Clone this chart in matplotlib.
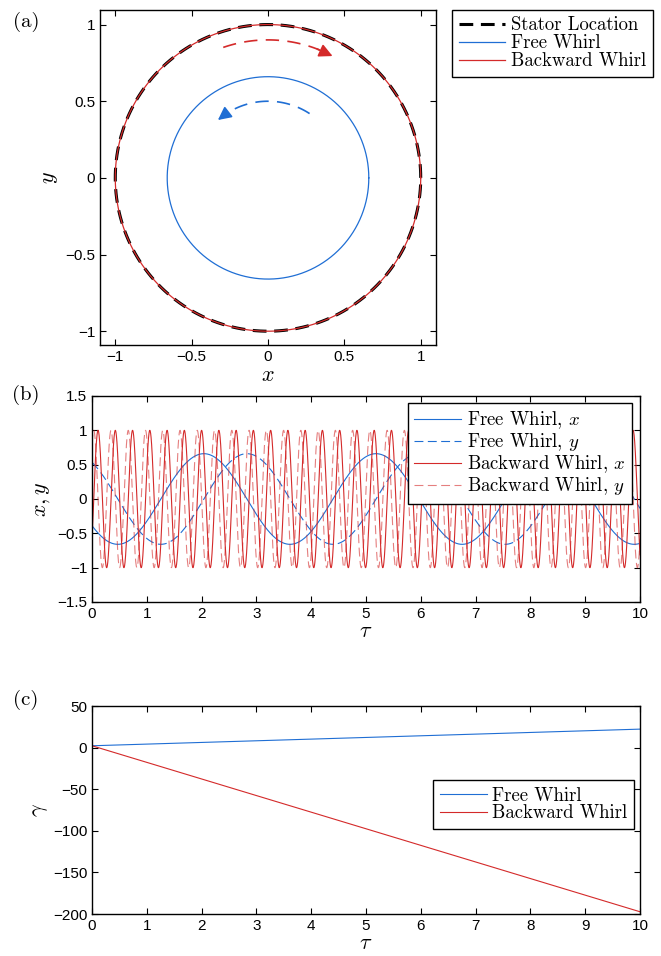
import numpy as np
import matplotlib
matplotlib.use('Agg')
import matplotlib.pyplot as plt
from matplotlib.ticker import FuncFormatter

plt.rcParams['mathtext.fontset'] = 'cm'
plt.rcParams['font.family'] = ['Liberation Sans', 'DejaVu Sans']

# ---- data ----
# orbit radii (panel a)
r_stator = 1.0
r_free = 0.66
r_back = 1.0
# whirl phase gamma at tau = 0 and tau = 10 (panel c)
tau_ends = [0.0, 10.0]
gamma_free = [2.2, 22.2]
gamma_back = [2.2, -197.3]
# direction arrows in panel a: radius, start angle, end angle (deg)
arrow_free = (0.50, 57, 131)
arrow_back = (0.90, 109, 62)

BLUE = '#1f6ed4'
RED = '#d42a2a'
CMR = {'family': 'cmr10', 'size': 13.5}


def gamma_of(tau, g):
    rate = (g[1] - g[0]) / (tau_ends[1] - tau_ends[0])
    return g[0] + rate * (tau - tau_ends[0])


def fmt(v, pos):
    s = '%g' % v
    return s.replace('-', '\u2212')


def style_ax(ax):
    ax.tick_params(direction='in', top=True, right=True, length=4,
                   labelsize=11, width=0.8)
    for s in ax.spines.values():
        s.set_linewidth(1.0)
    ax.xaxis.set_major_formatter(FuncFormatter(fmt))
    ax.yaxis.set_major_formatter(FuncFormatter(fmt))


def leg(ax, **kw):
    l = ax.legend(prop=CMR, fancybox=False, edgecolor='black', framealpha=1,
                  handlelength=2.5, handletextpad=0.3, labelspacing=0.0,
                  borderpad=0.35, borderaxespad=0, **kw)
    l.get_frame().set_linewidth(1.0)
    return l


fig = plt.figure(figsize=(6.61, 9.56), dpi=100)
W, H = 661.0, 956.0


def px_axes(l, t, r, b):
    return fig.add_axes([l / W, 1 - b / H, (r - l) / W, (b - t) / H])


# ---------- (a) ----------
ax = px_axes(100, 10, 436, 345)
th = np.linspace(0, 2 * np.pi, 400)
ax.plot(r_stator * np.cos(th), r_stator * np.sin(th), color='black', lw=2.2,
        dashes=(4.5, 2.5), label='Stator Location')
ax.plot(r_free * np.cos(th), r_free * np.sin(th), color=BLUE, lw=0.9,
        label='Free Whirl')
ax.plot(r_back * np.cos(th), r_back * np.sin(th), color=RED, lw=0.9,
        label='Backward Whirl')

for (r, a0, a1), c in [(arrow_free, BLUE), (arrow_back, RED)]:
    sgn = np.sign(a1 - a0)
    t = np.radians(np.linspace(a0, a1 - sgn * 6, 60))
    ax.plot(r * np.cos(t), r * np.sin(t), color=c, lw=1.2, dashes=(8, 5))
    tip = np.radians(a1)
    tail = np.radians(a1 - sgn * 7)
    ax.annotate('', xy=(r * np.cos(tip), r * np.sin(tip)),
                xytext=(r * np.cos(tail), r * np.sin(tail)),
                arrowprops=dict(arrowstyle='-|>', color=c, lw=1.2,
                                mutation_scale=20, shrinkA=0, shrinkB=0))

ax.set_xlim(-1.1, 1.1)
ax.set_ylim(-1.09, 1.095)
ax.set_xticks([-1, -0.5, 0, 0.5, 1])
ax.set_yticks([-1, -0.5, 0, 0.5, 1])
style_ax(ax)
ax.set_xlabel('$x$', fontsize=16, labelpad=1)
ax.set_ylabel('$y$', fontsize=16, labelpad=4)
leg(ax, loc='upper left', bbox_to_anchor=(452 / W, 1 - 10 / H),
    bbox_transform=fig.transFigure)
fig.text(26 / W, 1 - 22 / H, '(a)', fontdict={'family': 'cmr10', 'size': 15},
         ha='center', va='center')

# ---------- (b) ----------
bx = px_axes(92, 396, 640, 602)
tau = np.linspace(0, 10, 4000)
gf = gamma_of(tau, gamma_free)
gb = gamma_of(tau, gamma_back)
bx.plot(tau, r_free * np.cos(gf), color=BLUE, lw=0.8, label='Free Whirl, $x$')
bx.plot(tau, r_free * np.sin(gf), color=BLUE, lw=0.8, dashes=(8, 4),
        label='Free Whirl, $y$')
bx.plot(tau, r_back * np.cos(gb), color=RED, lw=0.8,
        label='Backward Whirl, $x$')
bx.plot(tau, r_back * np.sin(gb), color=RED, lw=0.8, alpha=0.6,
        dashes=(8, 4), label='Backward Whirl, $y$')
bx.set_xlim(0, 10)
bx.set_ylim(-1.5, 1.5)
bx.set_xticks(range(0, 11))
bx.set_yticks(np.arange(-1.5, 1.51, 0.5))
style_ax(bx)
bx.set_xlabel(r'$\tau$', fontsize=16, labelpad=0)
bx.set_ylabel('$x, y$', fontsize=16, labelpad=4)
leg(bx, loc='upper right', bbox_to_anchor=(632 / W, 1 - 403 / H),
    bbox_transform=fig.transFigure)
fig.text(26 / W, 1 - 395 / H, '(b)', fontdict={'family': 'cmr10', 'size': 15},
         ha='center', va='center')

# ---------- (c) ----------
cx = px_axes(92, 706, 640, 914)
cx.plot(tau_ends, gamma_free, color=BLUE, lw=0.8, label='Free Whirl')
cx.plot(tau_ends, gamma_back, color=RED, lw=0.8, label='Backward Whirl')
cx.set_xlim(0, 10)
cx.set_ylim(-200, 50)
cx.set_xticks(range(0, 11))
cx.set_yticks(range(-200, 51, 50))
style_ax(cx)
cx.set_xlabel(r'$\tau$', fontsize=16, labelpad=0)
cx.set_ylabel(r'$\gamma$', fontsize=16, labelpad=2)
leg(cx, loc='lower right', bbox_to_anchor=(634 / W, 1 - 829 / H),
    bbox_transform=fig.transFigure)
fig.text(26 / W, 1 - 700 / H, '(c)', fontdict={'family': 'cmr10', 'size': 15},
         ha='center', va='center')

fig.savefig('out.png', dpi=100)
